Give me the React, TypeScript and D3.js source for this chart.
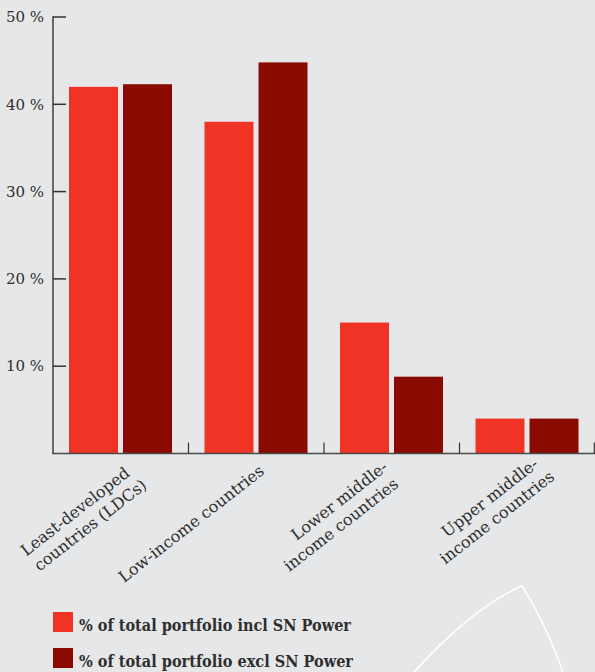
import React from "react";
import * as d3 from "d3";

const categories = [
  "Least-developed countries (LDCs)",
  "Low-income countries",
  "Lower middle-income countries",
  "Upper middle-income countries",
];
const categoryLines = [
  ["Least-developed", "countries (LDCs)"],
  ["Low-income countries"],
  ["Lower middle-", "income countries"],
  ["Upper middle-", "income countries"],
];
const seriesNames = [
  "% of total portfolio incl SN Power",
  "% of total portfolio excl SN Power",
];
const inclValues = [42.0, 38.0, 15.0, 4.0];
const exclValues = [42.3, 44.8, 8.8, 4.0];
const yTicks = [10, 20, 30, 40, 50];

// layout (not data)
const W = 595;
const H = 672;
const BG = "#E6E7E9";
const COLORS = ["#EF3325", "#8A0A00"];
const TEXT = "#2E2E2E";
const labelNudgeX = [10, 9, -3, 12];
const labelY = [475, 473, 469, 466];
const line2Shift = [6, 0, -2, 5];

export default function App() {
  const x0 = d3.scaleBand<string>().domain(categories).range([53, 595]).paddingInner(0).paddingOuter(0);
  const x1 = d3.scaleBand<string>().domain(seriesNames).range([16, 119]).paddingInner(0.093);
  const y = d3.scaleLinear().domain([0, 50]).range([453.5, 17]);
  const series = [inclValues, exclValues];
  const base = y(0);
  const boundaries = categories.map((c) => (x0(c) as number) + x0.bandwidth());
  const angle = -38;
  const lh = 20;

  return (
    <div style={{ position: "absolute", left: 0, top: 0, width: W, height: H }}>
      <svg width={W} height={H} style={{ display: "block" }}>
        <rect x={0} y={0} width={W} height={H} fill={BG} />
        {/* decorative background curves */}
        <path d="M413,673 Q470,610 521.7,585.7 Q545,622 563.3,673" fill="none" stroke="#FFFFFF" strokeWidth={1.5} />

        {/* bars */}
        {categories.map((c, i) => (
          <g key={c} transform={`translate(${x0(c)},0)`}>
            {series.map((vals, s) => (
              <rect
                key={s}
                x={x1(seriesNames[s])}
                y={y(vals[i])}
                width={x1.bandwidth()}
                height={base - y(vals[i])}
                fill={COLORS[s]}
              />
            ))}
          </g>
        ))}

        {/* y axis */}
        <line x1={53} x2={53} y1={y(50) - 0.7} y2={base + 0.7} stroke="#333" strokeWidth={1.4} />
        {yTicks.map((t) => (
          <g key={t}>
            <line x1={53} x2={66} y1={y(t)} y2={y(t)} stroke="#333" strokeWidth={1.5} />
            <text
              x={44}
              y={y(t)}
              dy="0.35em"
              textAnchor="end"
              fontFamily="DejaVu Serif"
              fontSize={15}
              fill={TEXT}
            >
              {`${t} %`}
            </text>
          </g>
        ))}

        {/* x axis baseline */}
        <line x1={53} x2={595} y1={base} y2={base} stroke="#4A4A4A" strokeWidth={1.6} />
        {boundaries.map((bx, i) => (
          <line key={i} x1={Math.min(bx, 594.3)} x2={Math.min(bx, 594.3)} y1={base - 11} y2={base} stroke="#333" strokeWidth={1.2} />
        ))}

        {/* category labels */}
        {categories.map((c, i) => {
          const cx = (x0(c) as number) + x0.bandwidth() / 2 + labelNudgeX[i];
          return (
            <text
              key={c}
              transform={`translate(${cx},${labelY[i]}) rotate(${angle})`}
              textAnchor="end"
              fontFamily="DejaVu Serif"
              fontSize={16}
              fill={TEXT}
            >
              {categoryLines[i].map((ln, k) => (
                <tspan key={k} x={k * line2Shift[i]} y={k * lh}>
                  {ln}
                </tspan>
              ))}
            </text>
          );
        })}

        {/* legend */}
        {seriesNames.map((name, s) => (
          <g key={name} transform={`translate(53,${612 + s * 36})`}>
            <rect x={0} y={0} width={20} height={20} fill={COLORS[s]} />
            <text
              x={26}
              y={18.5}
              fontFamily="DejaVu Serif"
              fontWeight="bold"
              fontSize={17}
              fill={TEXT}
              textLength={s === 0 ? 272 : 274}
              lengthAdjust="spacingAndGlyphs"
            >
              {name}
            </text>
          </g>
        ))}
      </svg>
    </div>
  );
}
